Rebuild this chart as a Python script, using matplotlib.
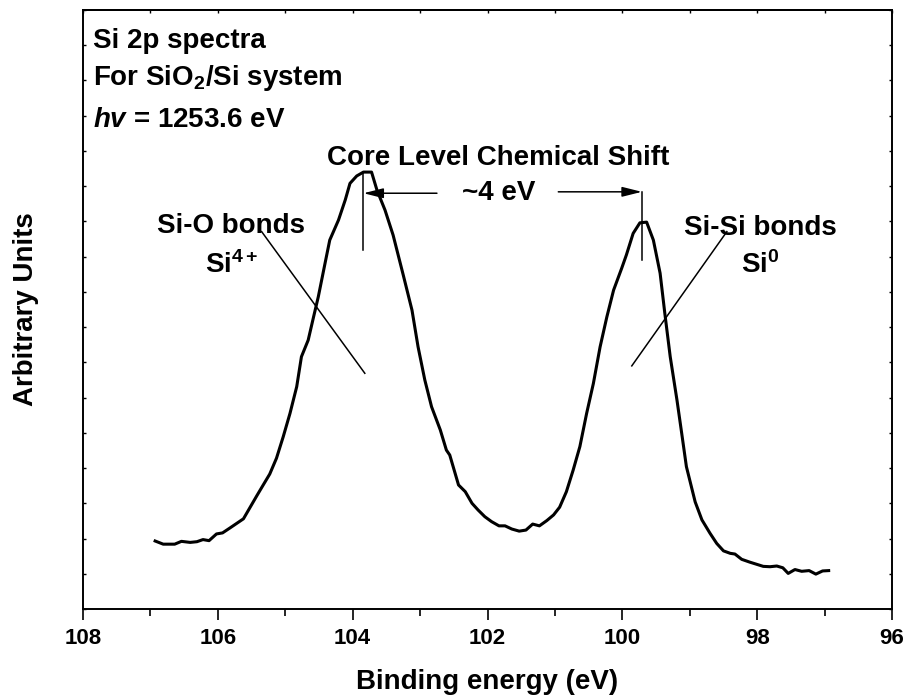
import matplotlib
matplotlib.use("Agg")
import matplotlib.pyplot as plt
from matplotlib.patches import ArrowStyle

plt.rcParams['font.family'] = ['Liberation Sans', 'DejaVu Sans']
plt.rcParams['font.weight'] = 'bold'
plt.rcParams['mathtext.fontset'] = 'custom'
plt.rcParams['mathtext.rm'] = 'Liberation Sans:bold'
plt.rcParams['mathtext.bf'] = 'Liberation Sans:bold'
plt.rcParams['mathtext.it'] = 'Liberation Sans:bold:italic'

# Si 2p spectrum
energy = [106.93, 106.81, 106.64, 106.54, 106.41, 106.31, 106.22, 106.13, 106.02, 105.93,
          105.82, 105.72, 105.62, 105.52, 105.42, 105.33, 105.23, 105.13, 105.03, 104.93,
          104.83, 104.76, 104.66, 104.58, 104.51, 104.41, 104.34, 104.21, 104.11, 104.04,
          103.94, 103.84, 103.72, 103.64, 103.52, 103.40, 103.25, 103.12, 103.03, 102.93,
          102.83, 102.70, 102.61, 102.56, 102.43, 102.33, 102.23, 102.14, 102.04, 101.94,
          101.83, 101.74, 101.64, 101.53, 101.43, 101.33, 101.23, 101.12, 101.02, 100.93,
          100.83, 100.73, 100.63, 100.53, 100.43, 100.33, 100.23, 100.13, 100.01, 99.94,
          99.84, 99.74, 99.64, 99.54, 99.44, 99.37, 99.29, 99.19, 99.12, 99.05,
          98.92, 98.82, 98.70, 98.60, 98.50, 98.40, 98.33, 98.23, 98.11, 98.01,
          97.91, 97.81, 97.71, 97.62, 97.54, 97.44, 97.34, 97.23, 97.13, 97.03, 96.94]
intensity = [1.93, 1.84, 1.84, 1.92, 1.89, 1.91, 1.97, 1.94, 2.13, 2.16,
             2.30, 2.43, 2.56, 2.89, 3.22, 3.51, 3.83, 4.28, 4.89, 5.55,
             6.31, 7.16, 7.63, 8.29, 8.86, 9.81, 10.47, 11.04, 11.61, 12.08,
             12.29, 12.40, 12.40, 11.89, 11.32, 10.61, 9.48, 8.48, 7.44, 6.50,
             5.74, 5.08, 4.51, 4.37, 3.52, 3.33, 3.00, 2.81, 2.62, 2.48,
             2.36, 2.36, 2.27, 2.21, 2.24, 2.41, 2.36, 2.51, 2.67, 2.89,
             3.33, 3.94, 4.61, 5.55, 6.40, 7.44, 8.29, 9.05, 9.67, 10.05,
             10.66, 10.96, 10.98, 10.47, 9.53, 8.39, 7.16, 5.93, 4.99, 4.04,
             3.04, 2.53, 2.15, 1.86, 1.65, 1.58, 1.56, 1.41, 1.33, 1.27,
             1.21, 1.20, 1.22, 1.17, 1.01, 1.12, 1.07, 1.09, 0.99, 1.08, 1.09]

peak_oxide = 103.84
peak_si = 99.71

fig = plt.figure(figsize=(9.07, 7.0), dpi=100)
ax = fig.add_axes([0.0915, 0.13, 0.892, 0.8557])

ax.plot(energy, intensity, color='black', lw=2.2)

ax.set_xlim(108, 96)
ax.set_ylim(0, 17)
ax.set_xticks(range(108, 95, -2))
ax.set_xticks(range(107, 96, -2), minor=True)
ax.set_yticks(range(0, 18))
ax.set_yticklabels([])

for s in ax.spines.values():
    s.set_linewidth(1.4)
ax.tick_params(axis='x', which='major', direction='out', length=8, width=1.2,
               labelsize=16, pad=6, top=False)
ax.tick_params(axis='x', which='minor', direction='out', length=5, width=1.2, top=False)
ax.tick_params(axis='y', which='major', direction='in', length=2.5, width=1.0,
               left=True, right=True)
# small inward ticks along the top edge, every 1 eV
sec = ax.secondary_xaxis('top')
sec.set_xticks(range(108, 95, -1))
sec.set_xticklabels([])
sec.tick_params(direction='in', length=2.5, width=1.0)
sec.spines['top'].set_linewidth(1.4)

ax.set_xlabel('Binding energy (eV)', fontsize=20, fontweight='bold', labelpad=14)
ax.set_ylabel('Arbitrary Units', fontsize=20, fontweight='bold', labelpad=28)

# top-left notes
ax.text(0.012, 0.9366, 'Si 2p spectra', transform=ax.transAxes, fontsize=20, va='baseline')
ax.text(0.012, 0.8748, r'For SiO$_{2}$/Si system', transform=ax.transAxes, fontsize=20, va='baseline')
ax.text(0.012, 0.8047, r'$hv$ = 1253.6 eV', transform=ax.transAxes, fontsize=20, va='baseline')

# chemical shift markers
ax.text(101.84, 12.60, 'Core Level Chemical Shift', fontsize=20, ha='center', va='baseline')
ax.text(101.84, 11.61, '~4 eV', fontsize=20, ha='center', va='baseline')
ax.plot([peak_oxide, peak_oxide], [12.40, 10.19], color='black', lw=1.1)
ax.plot([peak_si, peak_si], [11.84, 9.90], color='black', lw=1.1)
head = ArrowStyle('-|>', head_length=1.2, head_width=0.3)
ax.annotate('', xy=(peak_oxide, 11.80), xytext=(102.75, 11.80),
            arrowprops=dict(arrowstyle=head, color='black', lw=1.1,
                            shrinkA=0, shrinkB=0, mutation_scale=10))
ax.annotate('', xy=(peak_si, 11.84), xytext=(100.95, 11.84),
            arrowprops=dict(arrowstyle=head, color='black', lw=1.1,
                            shrinkA=0, shrinkB=0, mutation_scale=10))

# peak labels
ax.text(105.81, 10.67, 'Si-O bonds', fontsize=20, ha='center', va='baseline')
ax.text(105.80, 9.53, r'Si$^{4+}$', fontsize=20, ha='center', va='baseline')
ax.plot([105.35, 103.82], [10.71, 6.69], color='black', lw=1.1)
ax.text(97.95, 10.61, 'Si-Si bonds', fontsize=20, ha='center', va='baseline')
ax.text(97.95, 9.53, r'Si$^{0}$', fontsize=20, ha='center', va='baseline')
ax.plot([98.45, 99.86], [10.71, 6.90], color='black', lw=1.1)

fig.savefig('out.png', dpi=100)
